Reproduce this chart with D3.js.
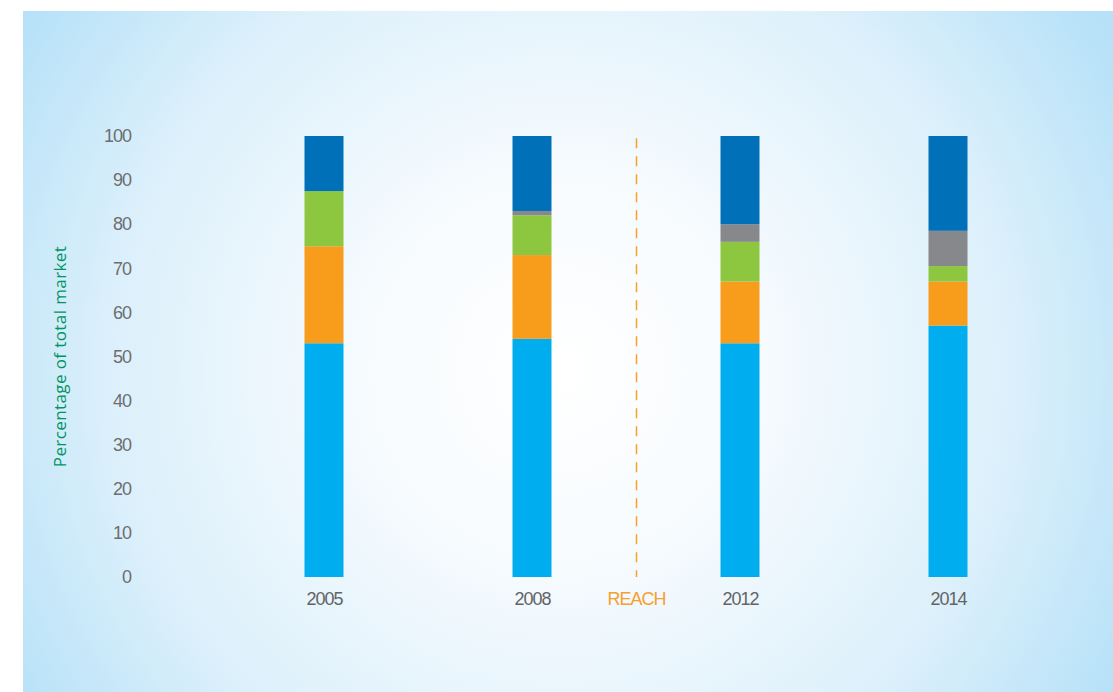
<!DOCTYPE html>
<html>
<head>
<meta charset="utf-8">
<script src="https://cdn.jsdelivr.net/npm/d3@7"></script>
<style>
  body { margin: 0; background: #fff; }
  svg { display: block; }
</style>
</head>
<body>
<div id="chart"></div>
<script>
var barYears = ["2005", "2008", "2012", "2014"];
var markerLabel = "REACH";
var seriesKeys = ["main", "orange", "green", "grey", "top"];
var seriesColors = ["#00aeef", "#f89c1c", "#8dc63f", "#87888b", "#0071b9"];
var mainVals   = [53, 54, 53, 57];
var orangeVals = [22, 19, 14, 10];
var greenVals  = [12.5, 9, 9, 3.5];
var greyVals   = [0, 1, 4, 8];
var topVals    = [12.5, 17, 20, 21.5];
var yTicks = [0, 10, 20, 30, 40, 50, 60, 70, 80, 90, 100];

var width = 1113, height = 692;

var rows = barYears.map(function(y, i) {
  return { year: y, main: mainVals[i], orange: orangeVals[i], green: greenVals[i], grey: greyVals[i], top: topVals[i] };
});

var svg = d3.select("#chart").append("svg")
  .attr("width", width)
  .attr("height", height);

// background panel
var defs = svg.append("defs");
var grad = defs.append("radialGradient")
  .attr("id", "bg")
  .attr("gradientUnits", "userSpaceOnUse")
  .attr("cx", 560).attr("cy", 370).attr("r", 640);
grad.append("stop").attr("offset", "0%").attr("stop-color", "#ffffff");
grad.append("stop").attr("offset", "30%").attr("stop-color", "#f7fbfe");
grad.append("stop").attr("offset", "70%").attr("stop-color", "#dcf0fb");
grad.append("stop").attr("offset", "100%").attr("stop-color", "#b6e1f8");

svg.append("rect")
  .attr("x", 23).attr("y", 11)
  .attr("width", width - 23).attr("height", height - 11)
  .attr("fill", "url(#bg)");

// bar centres
var x = d3.scalePoint()
  .domain(barYears)
  .range([324, 948]);

var y = d3.scaleLinear()
  .domain([0, 100])
  .range([577, 136]);

var barW = 39;
var tickFont = "'Liberation Sans', Arial, sans-serif";

// y axis labels
var yAxis = svg.append("g")
  .attr("transform", "translate(131,0)")
  .call(d3.axisLeft(y).tickValues(yTicks).tickSize(0).tickPadding(0));
yAxis.select(".domain").remove();
yAxis.selectAll("text")
  .attr("fill", "#6d6e71")
  .attr("font-family", tickFont)
  .attr("font-size", 18)
  .attr("letter-spacing", -1);

svg.append("text")
  .attr("transform", "translate(66," + y(50) + ") rotate(-90)")
  .attr("text-anchor", "middle")
  .attr("fill", "#00955f")
  .attr("font-family", "'Open Sans', sans-serif")
  .attr("font-size", 17)
  .attr("letter-spacing", 0.4)
  .text("Percentage of total market");

// stacked bars
var stack = d3.stack().keys(seriesKeys);
var layers = stack(rows);

svg.append("g").selectAll("g")
  .data(layers)
  .enter().append("g")
  .attr("fill", function(d, i) { return seriesColors[i]; })
  .selectAll("rect")
  .data(function(d) { return d; })
  .enter().append("rect")
  .attr("x", function(d) { return x(d.data.year) - barW / 2; })
  .attr("y", function(d) { return y(d[1]); })
  .attr("width", barW)
  .attr("height", function(d) { return y(d[0]) - y(d[1]); });

// REACH marker, halfway between 2008 and 2012
var rx = (x("2008") + x("2012")) / 2 + 0.5;
svg.append("line")
  .attr("x1", rx).attr("x2", rx)
  .attr("y1", y(99.5)).attr("y2", y(0))
  .attr("stroke", "#f7a02c")
  .attr("stroke-width", 1.5)
  .attr("stroke-dasharray", "10,8");

// x labels
var xAxis = svg.append("g")
  .attr("transform", "translate(0,592)")
  .call(d3.axisBottom(x).tickSize(0).tickPadding(0));
xAxis.select(".domain").remove();
xAxis.selectAll("text")
  .attr("fill", "#636466")
  .attr("font-family", tickFont)
  .attr("font-size", 18)
  .attr("letter-spacing", -1);

svg.append("text")
  .attr("x", rx)
  .attr("y", 592)
  .attr("dy", "0.71em")
  .attr("text-anchor", "middle")
  .attr("fill", "#f7a02c")
  .attr("font-family", tickFont)
  .attr("font-size", 18)
  .attr("letter-spacing", -1)
  .text(markerLabel);
</script>
</body>
</html>
